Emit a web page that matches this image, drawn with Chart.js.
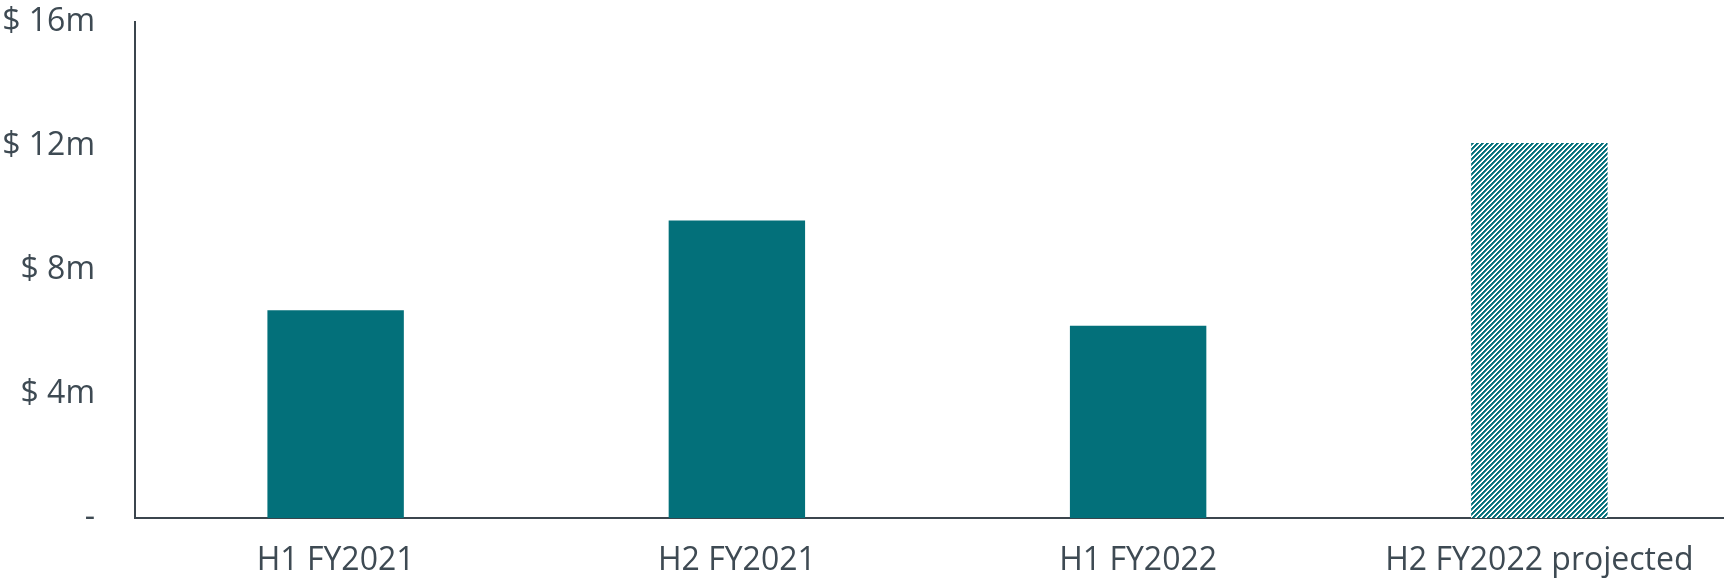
<!DOCTYPE html>
<html>
<head>
<meta charset="utf-8">
<script src="https://cdn.jsdelivr.net/npm/chart.js@4"></script>
<style>
  html, body { margin: 0; padding: 0; background: #fff; overflow: hidden; }
  .wrap { position: relative; width: 1740px; height: 580px; }
</style>
</head>
<body>
<div class="wrap"><canvas id="chart"></canvas></div>
<script>
// --- DATA ---
const categories = ['H1 FY2021', 'H2 FY2021', 'H1 FY2022', 'H2 FY2022 projected'];
const revenue = [6.7, 9.6, 6.2, 12.1];     // $ millions
const projected = [false, false, false, true];
const yTicks = [0, 4, 8, 12, 16];
const yTickLabels = ['-', '$ 4m', '$ 8m', '$ 12m', '$ 16m'];

const teal = '#03707a';
const textCol = '#3e4a53';
const axisCol = '#3b454d';

// hatch fill for the projected bar ("/" stripes)
function hatch(color) {
  const n = 5;
  const c = document.createElement('canvas');
  c.width = n; c.height = n;
  const g = c.getContext('2d');
  g.fillStyle = '#fff';
  g.fillRect(0, 0, n, n);
  for (let i = 0; i < n; i++) {
    g.fillStyle = color;
    g.fillRect(i, n - 1 - i, 1, 1);
    g.fillRect((i + 1) % n, n - 1 - i, 1, 1);
    g.fillStyle = 'rgba(3,112,122,0.8)';
    g.fillRect((i + 2) % n, n - 1 - i, 1, 1);
  }
  return g.createPattern(c, 'repeat');
}

const ctx = document.getElementById('chart').getContext('2d');
const chart = new Chart(ctx, {
  type: 'bar',
  data: {
    labels: categories,
    datasets: [{
      data: revenue,
      backgroundColor: projected.map(p => p ? hatch(teal) : teal),
      borderWidth: 0,
      barPercentage: 0.34,
      categoryPercentage: 1
    }]
  },
  options: {
    responsive: true, maintainAspectRatio: false, animation: false,
    layout: { padding: { top: 22, right: 0, left: 0, bottom: 0 } },
    plugins: { legend: { display: false }, tooltip: { enabled: false } },
    scales: {
      x: {
        grid: { display: false, drawTicks: false },
        border: { display: true, color: axisCol, width: 2 },
        ticks: { color: textCol, font: { family: 'Open Sans', size: 32 }, padding: 24, maxRotation: 0 },
        afterFit: s => { s.height = 62; s.paddingLeft = 0; s.paddingRight = 0; }
      },
      y: {
        min: 0, max: 16,
        grid: { display: false, drawTicks: false },
        border: { display: true, color: axisCol, width: 2 },
        afterBuildTicks: s => { s.ticks = yTicks.map(v => ({ value: v })); },
        ticks: {
          color: textCol, font: { family: 'Open Sans', size: 32 }, padding: 40,
          callback: v => yTickLabels[yTicks.indexOf(v)]
        },
        afterFit: s => { s.width = 135; s.paddingTop = 0; s.paddingBottom = 0; }
      }
    }
  }
});
</script>
</body>
</html>
